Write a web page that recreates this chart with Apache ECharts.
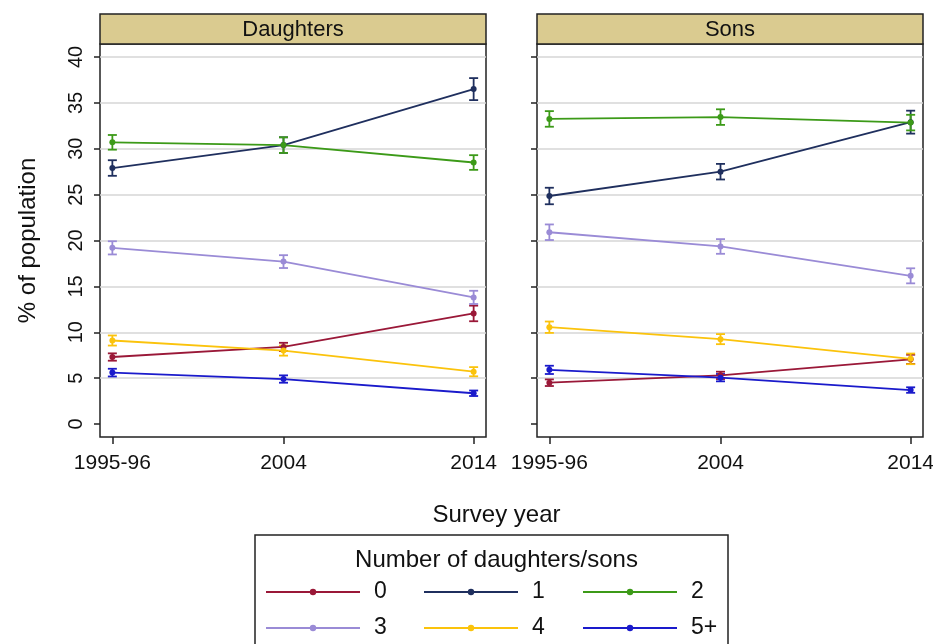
<!DOCTYPE html>
<html>
<head>
<meta charset="utf-8">
<script src="https://cdn.jsdelivr.net/npm/echarts@6/dist/echarts.min.js"></script>
<style>
  html, body { margin: 0; padding: 0; background: #fff; }
  #chart { width: 933px; height: 644px; }
</style>
</head>
<body>
<div id="chart"></div>
<script>
// Survey rounds (1995-96 round is placed at 1995 on the time axis)
const years = [1995, 2004, 2014];
const yearLabels = ['1995-96', '2004', '2014'];
const panels = ['Daughters', 'Sons'];
const groups = ['0', '1', '2', '3', '4', '5+'];
const groupColors = ['#9a1838', '#1f2f5e', '#3c9a18', '#9a8bd6', '#fbc30c', '#1a1acb'];
const yTicks = [0, 5, 10, 15, 20, 25, 30, 35, 40];

// % of population by number of daughters, with 95% CI half-widths
const daughters0 = [7.3, 8.4, 12.05];
const daughters1 = [27.9, 30.4, 36.5];
const daughters2 = [30.7, 30.4, 28.5];
const daughters3 = [19.2, 17.7, 13.8];
const daughters4 = [9.1, 8.0, 5.7];
const daughters5 = [5.6, 4.9, 3.35];
const daughtersCi0 = [0.4, 0.45, 0.85];
const daughtersCi1 = [0.85, 0.85, 1.2];
const daughtersCi2 = [0.8, 0.85, 0.8];
const daughtersCi3 = [0.72, 0.7, 0.72];
const daughtersCi4 = [0.55, 0.55, 0.5];
const daughtersCi5 = [0.42, 0.4, 0.3];

// % of population by number of sons, with 95% CI half-widths
const sons0 = [4.5, 5.3, 7.05];
const sons1 = [24.85, 27.5, 32.9];
const sons2 = [33.25, 33.45, 32.85];
const sons3 = [20.9, 19.35, 16.15];
const sons4 = [10.55, 9.25, 7.1];
const sons5 = [5.9, 5.05, 3.7];
const sonsCi0 = [0.36, 0.4, 0.5];
const sonsCi1 = [0.9, 0.85, 1.25];
const sonsCi2 = [0.85, 0.85, 0.85];
const sonsCi3 = [0.85, 0.8, 0.82];
const sonsCi4 = [0.62, 0.55, 0.58];
const sonsCi5 = [0.45, 0.4, 0.3];

const panelValues = [
  [daughters0, daughters1, daughters2, daughters3, daughters4, daughters5],
  [sons0, sons1, sons2, sons3, sons4, sons5]
];
const panelCis = [
  [daughtersCi0, daughtersCi1, daughtersCi2, daughtersCi3, daughtersCi4, daughtersCi5],
  [sonsCi0, sonsCi1, sonsCi2, sonsCi3, sonsCi4, sonsCi5]
];

const FONT = '"Liberation Sans", Arial, sans-serif';
const INK = '#111';
const FRAME = '#222';
const xMin = 1994.35, xMax = 2014.65;

// Panel geometry: outer frame and inner plotting area
const panelLeft = [100, 537];
const panelWidth = 386;
const frameTop = 44, frameHeight = 393;
const plotTop = 57, plotHeight = 367;

const grids = [], xAxes = [], yAxes = [], series = [], graphics = [];

panels.forEach((title, p) => {
  const frameIdx = grids.length;
  grids.push({ left: panelLeft[p], top: frameTop, width: panelWidth, height: frameHeight,
    outerBoundsMode: 'none', containLabel: false,
    show: true, borderColor: FRAME, borderWidth: 1.5, backgroundColor: '#fff' });
  const plotIdx = grids.length;
  grids.push({ left: panelLeft[p], top: plotTop, width: panelWidth, height: plotHeight,
    outerBoundsMode: 'none', containLabel: false });

  // frame axis carries the survey-year ticks
  xAxes.push({ gridIndex: frameIdx, type: 'value', min: xMin, max: xMax,
    axisLine: { show: false, onZero: false },
    axisTick: { show: true, customValues: years, length: 7, lineStyle: { color: FRAME, width: 1.5 } },
    axisLabel: { customValues: years, formatter: v => yearLabels[years.indexOf(v)],
      fontSize: 21, color: INK, margin: 16, fontFamily: FONT, hideOverlap: false },
    splitLine: { show: false } });
  yAxes.push({ gridIndex: frameIdx, type: 'value', min: 0, max: 1, show: false });

  xAxes.push({ gridIndex: plotIdx, type: 'value', min: xMin, max: xMax, show: false });
  yAxes.push({ gridIndex: plotIdx, type: 'value', min: 0, max: 40, interval: 5,
    axisLine: { show: false },
    axisTick: { show: true, length: 6, lineStyle: { color: FRAME, width: 1.5 } },
    axisLabel: { show: p === 0, rotate: 90, fontSize: 20, color: INK, margin: 14, fontFamily: FONT,
      customValues: yTicks },
    splitLine: { show: true, showMinLine: false, lineStyle: { color: '#d6d6d6', width: 1.5 } },
    name: p === 0 ? '% of population' : '', nameLocation: 'middle', nameGap: 60,
    nameTextStyle: { fontSize: 24, color: INK, fontFamily: FONT } });

  // title strip
  graphics.push({ type: 'rect', z: 10,
    shape: { x: panelLeft[p], y: 14, width: panelWidth, height: 30 },
    style: { fill: '#dacb90', stroke: FRAME, lineWidth: 1.5 } });
  graphics.push({ type: 'text', z: 11, x: panelLeft[p] + panelWidth / 2, y: 30,
    style: { text: title, fontSize: 22, fontFamily: FONT, fill: INK, align: 'center', verticalAlign: 'middle' } });

  groups.forEach((g, k) => {
    const vals = panelValues[p][k];
    const cis = panelCis[p][k];
    const color = groupColors[k];
    series.push({
      name: g + ' CI', type: 'custom', xAxisIndex: plotIdx, yAxisIndex: plotIdx,
      silent: true,
      data: years.map((yr, i) => [yr, vals[i] - cis[i], vals[i] + cis[i]]),
      encode: { x: 0, y: [1, 2] },
      renderItem: (params, api) => {
        const x = api.value(0);
        const hi = api.coord([x, api.value(2)]);
        const lo = api.coord([x, api.value(1)]);
        const hw = 4.5;
        const st = { stroke: color, lineWidth: 1.8 };
        return { type: 'group', children: [
          { type: 'line', shape: { x1: hi[0], y1: hi[1], x2: lo[0], y2: lo[1] }, style: st },
          { type: 'line', shape: { x1: hi[0] - hw, y1: hi[1], x2: hi[0] + hw, y2: hi[1] }, style: st },
          { type: 'line', shape: { x1: lo[0] - hw, y1: lo[1], x2: lo[0] + hw, y2: lo[1] }, style: st }
        ] };
      }
    });
    series.push({
      name: g, type: 'line', xAxisIndex: plotIdx, yAxisIndex: plotIdx,
      data: years.map((yr, i) => [yr, vals[i]]),
      symbol: 'circle', symbolSize: 6, showSymbol: true,
      lineStyle: { color: color, width: 1.8 },
      itemStyle: { color: color },
      emphasis: { disabled: true },
      animation: false
    });
  });
});

// legend frame and heading
graphics.push({ type: 'rect', z: 0,
  shape: { x: 255, y: 535, width: 473, height: 130 },
  style: { fill: '#fff', stroke: FRAME, lineWidth: 1.5 } });

const legendCols = [['0', '3'], ['1', '4'], ['2', '5+']];
const legendLeft = [265, 423, 582];
const legends = legendCols.map((items, c) => ({
  data: items, orient: 'vertical', left: legendLeft[c], top: 580, padding: 0,
  itemWidth: 94, itemHeight: 8, itemGap: 12, selectedMode: false,
  textStyle: { fontSize: 23, lineHeight: 24, color: INK, fontFamily: FONT, padding: [0, 0, 0, 9] }
}));

const chart = echarts.init(document.getElementById('chart'), null, { renderer: 'canvas' });
chart.setOption({
  animation: false,
  backgroundColor: '#fff',
  textStyle: { fontFamily: FONT },
  title: [
    { text: 'Survey year', left: 491.5, top: 498, textAlign: 'center',
      textStyle: { fontSize: 24, fontWeight: 'normal', color: INK, fontFamily: FONT } },
    { text: 'Number of daughters/sons', left: 491.5, top: 543, textAlign: 'center',
      textStyle: { fontSize: 24, fontWeight: 'normal', color: INK, fontFamily: FONT } }
  ],
  grid: grids,
  xAxis: xAxes,
  yAxis: yAxes,
  legend: legends,
  graphic: graphics,
  series: series
});
</script>
</body>
</html>
